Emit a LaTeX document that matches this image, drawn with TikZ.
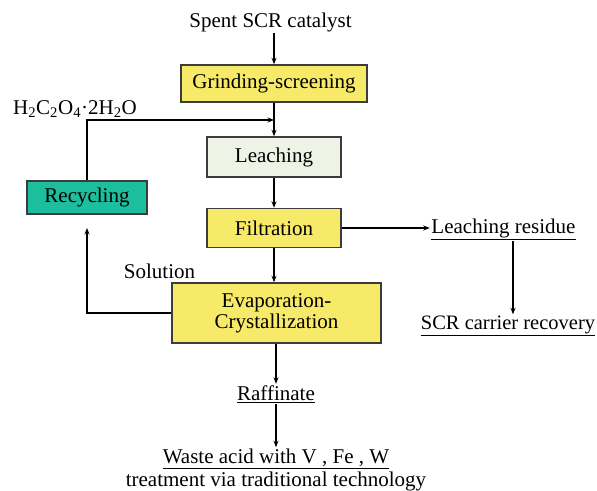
\documentclass[tikz,border=0pt]{standalone}
\usepackage{fontspec}
\setmainfont{Liberation Serif}
\usetikzlibrary{arrows.meta,calc}

\definecolor{stepyellow}{RGB}{246,234,104}
\definecolor{leachgreen}{RGB}{238,243,230}
\definecolor{recyteal}{RGB}{28,190,158}
\definecolor{boxedge}{RGB}{60,60,60}

\tikzset{
  procbox/.style={draw=boxedge, line width=1.5bp, fill=stepyellow, inner sep=0pt, align=center},
  plaintext/.style={inner sep=1.5bp, align=center},
  arr/.style={line width=1.3bp, -{Stealth[length=6.5bp,width=5bp]}},
}

\begin{document}
\begin{tikzpicture}[x=1bp, y=-1bp, font=\fontsize{21bp}{21bp}\selectfont]
  \useasboundingbox (0,0) rectangle (597,491);

  % process boxes
  \node[procbox, minimum width=186bp, minimum height=37bp] (grind) at (274,83.5) {Grinding-screening};
  \node[procbox, fill=leachgreen, minimum width=134bp, minimum height=40bp] (leach) at (274,157) {Leaching};
  \node[procbox, minimum width=134bp, minimum height=39bp] (filt) at (274,228) {Filtration};
  \node[procbox, minimum width=209bp, minimum height=60bp] (evap) at (276.5,313) {Evaporation-\\Crystallization};
  \node[procbox, fill=recyteal, minimum width=120bp, minimum height=33bp] (recyc) at (87,197.5) {Recycling};

  % labels and products
  \node[plaintext] (spent) at (270.5,22) {Spent SCR catalyst};
  \node[plaintext] (oxalic) at (75,109) {H\textsubscript{2}C\textsubscript{2}O\textsubscript{4}·2H\textsubscript{2}O};
  \node[plaintext] (sol) at (159.5,271) {Solution};
  \node[plaintext] (resid) at (503.5,229) {\underline{Leaching residue}};
  \node[plaintext, font=\fontsize{20.5bp}{21bp}\selectfont] (carrier) at (508,326) {\underline{SCR carrier recovery}};
  \node[plaintext] (raff) at (276,394) {\underline{Raffinate}};
  \node[plaintext] (waste) at (276,470) {\underline{Waste acid with V , Fe , W}\\[2bp]treatment via traditional technology};

  % junction where the recycled acid joins the main line
  \coordinate (join) at (274,120);
  \coordinate (back) at (87,228);

  % main flow
  \draw[arr] (spent.south -| grind.north) -- (grind);
  \draw[arr] (grind) -- (leach);
  \draw[arr] (leach) -- (filt);
  \draw[arr] (filt) -- (filt.south |- evap.north);
  \draw[arr] (evap.south -| raff) -- (raff);
  \draw[arr] (raff) -- (waste);

  % solid residue branch
  \draw[arr] (filt.east) -- (resid.west |- filt.east);
  \draw[arr] ([xshift=9.5bp]resid.south) -- ([xshift=9.5bp]resid.south |- carrier.north);

  % solution recycling loop
  \draw[arr] (evap.west) -| (back);
  \draw[arr] (recyc.north) |- (join);
\end{tikzpicture}
\end{document}
